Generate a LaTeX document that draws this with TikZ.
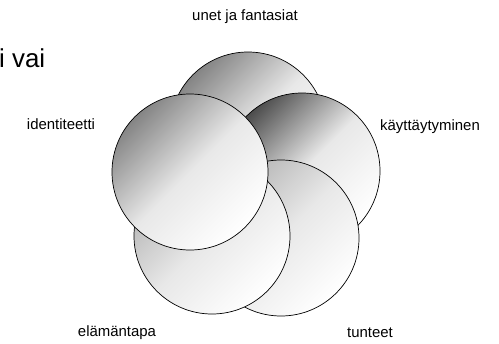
\documentclass[tikz,border=0pt]{standalone}
\usepackage{fontspec}
\setmainfont{Liberation Sans}
\begin{document}
\begin{tikzpicture}[x=1bp, y=1bp,
  petal/.style={circle, draw, line width=0.7bp, minimum size=156bp, inner sep=0pt,
    top color=black!#1, bottom color=white, middle color=black!9, shading angle=45},
  tag/.style={font=\fontsize{15}{18}\selectfont, inner sep=0pt}]
  \useasboundingbox (0,0) rectangle (499,343);
  % circles, back to front
  \foreach \n/\x/\y/\d in {top/248/213/48, kayt/302/172/70, tunt/281/105/30, elam/212/107/30, iden/190/171/48} {
    \node[petal=\d] (\n) at (\x,\y) {};
  }
  \node[tag] (unet) at (245,326) {unet ja fantasiat};
  \node[tag] (identiteetti) at (61,219) {identiteetti};
  \node[tag] (kayttaytyminen) at (430,216) {käyttäytyminen};
  \node[tag] (elamantapa) at (117,10) {elämäntapa};
  \node[tag] (tunteet) at (370,10) {tunteet};
  \node[font=\fontsize{26}{30}\selectfont, anchor=base west, inner sep=0pt] (otsikko) at (-1,276) {i vai};
\end{tikzpicture}
\end{document}
